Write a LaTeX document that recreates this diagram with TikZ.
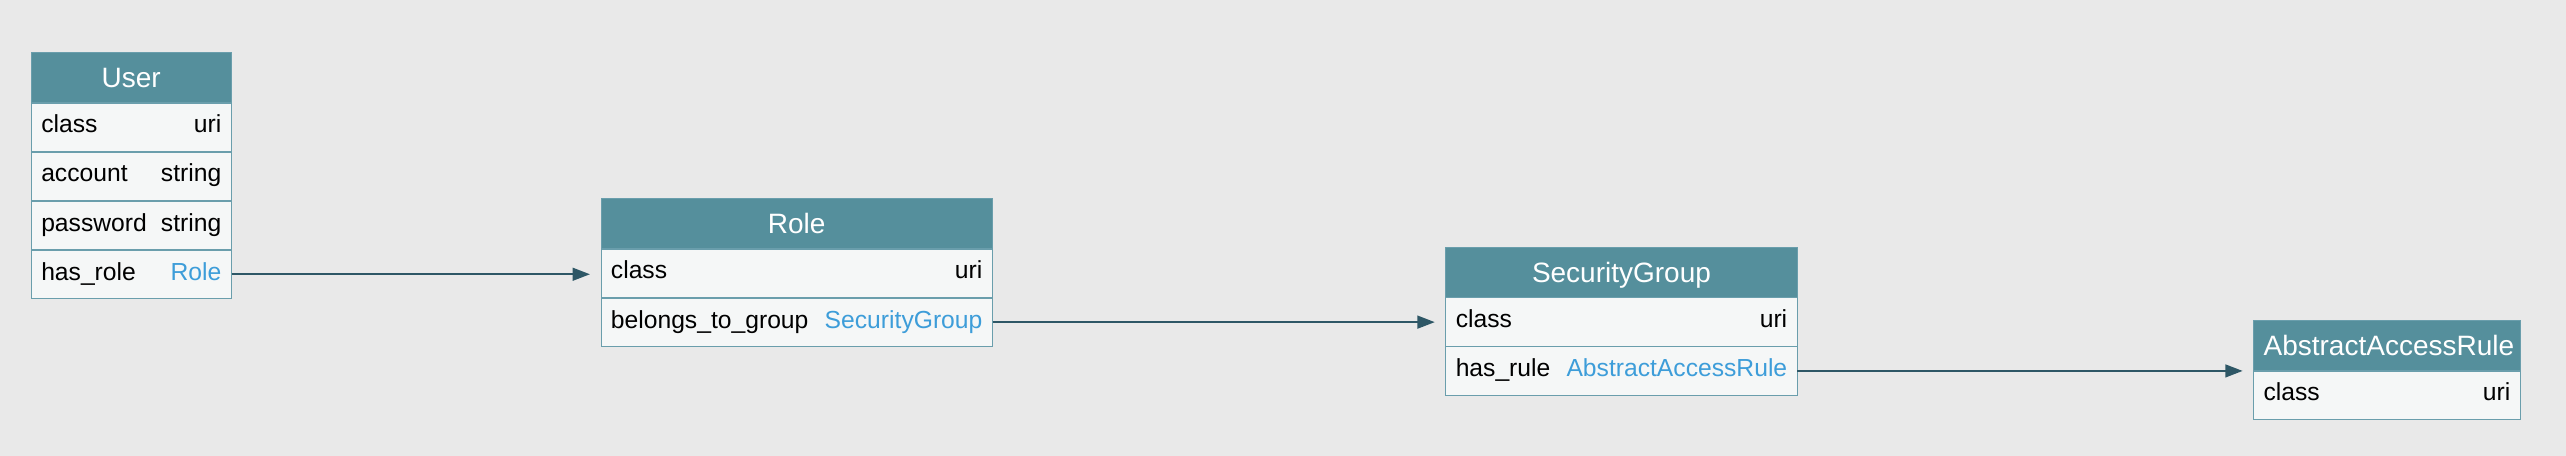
\documentclass[tikz,border=0pt]{standalone}
\usepackage{fontspec}
\setmainfont{Liberation Sans}
\usetikzlibrary{arrows.meta,positioning}
\definecolor{canvas}{HTML}{E9E9E9}
\definecolor{headteal}{HTML}{558F9C}
\definecolor{rowgray}{HTML}{F5F7F7}
\definecolor{edgeline}{HTML}{6A9EAC}
\definecolor{reflink}{HTML}{3D9DD9}
\definecolor{arrowslate}{HTML}{2E5766}

\begin{document}
\begin{tikzpicture}[
    head/.style={draw=edgeline, fill=headteal, text=white, text width=#1, align=center, inner xsep=7.5pt, inner ysep=0pt, minimum height=37.5pt, text height=15pt, text depth=0pt, font=\fontsize{21}{25}\selectfont},
    row/.style={draw=edgeline, fill=rowgray, text width=#1, inner xsep=7.5pt, inner ysep=0pt, minimum height=36.4pt, text height=14.5pt, text depth=5.7pt, font=\fontsize{18.5}{22}\selectfont},
    conn/.style={draw=arrowslate, line width=1.7pt, -{Triangle[length=13pt,width=9.5pt]}, shorten >=8pt}
  ]
    \fill[canvas] (0,0) rectangle (1924.5pt,-342pt);
    \useasboundingbox (0,0) rectangle (1924.5pt,-342pt);

    \node[head=135pt, anchor=north west] (user0) at (23.25pt,-39pt) {User};
    \node[row=135pt, below=0pt of user0] (user1) {class\hfill uri};
    \node[row=135pt, below=0pt of user1] (user2) {account\hfill string};
    \node[row=135pt, below=0pt of user2] (user3) {password\hfill string};
    \node[row=135pt, below=0pt of user3] (user4) {has\_role\hfill \textcolor{reflink}{Role}};

    \node[head=278.6pt, anchor=north west] (role0) at (450.5pt,-148.5pt) {Role};
    \node[row=278.6pt, below=0pt of role0] (role1) {class\hfill uri};
    \node[row=278.6pt, below=0pt of role1] (role2) {belongs\_to\_group\hfill \textcolor{reflink}{SecurityGroup}};

    \node[head=248.6pt, anchor=north west] (sg0) at (1084.1pt,-185.1pt) {SecurityGroup};
    \node[row=248.6pt, below=0pt of sg0] (sg1) {class\hfill uri};
    \node[row=248.6pt, below=0pt of sg1] (sg2) {has\_rule\hfill \textcolor{reflink}{AbstractAccessRule}};

    \node[head=185pt, anchor=north west] (aar0) at (1690pt,-240pt) {AbstractAccessRule};
    \node[row=185pt, below=0pt of aar0] (aar1) {class\hfill uri};

    \draw[conn] (user4.east) -- (user4.east -| role1.west);
    \draw[conn] (role2.east) -- (role2.east -| sg1.west);
    \draw[conn] (sg2.east) -- (sg2.east -| aar0.south west);
  \end{tikzpicture}
\end{document}
